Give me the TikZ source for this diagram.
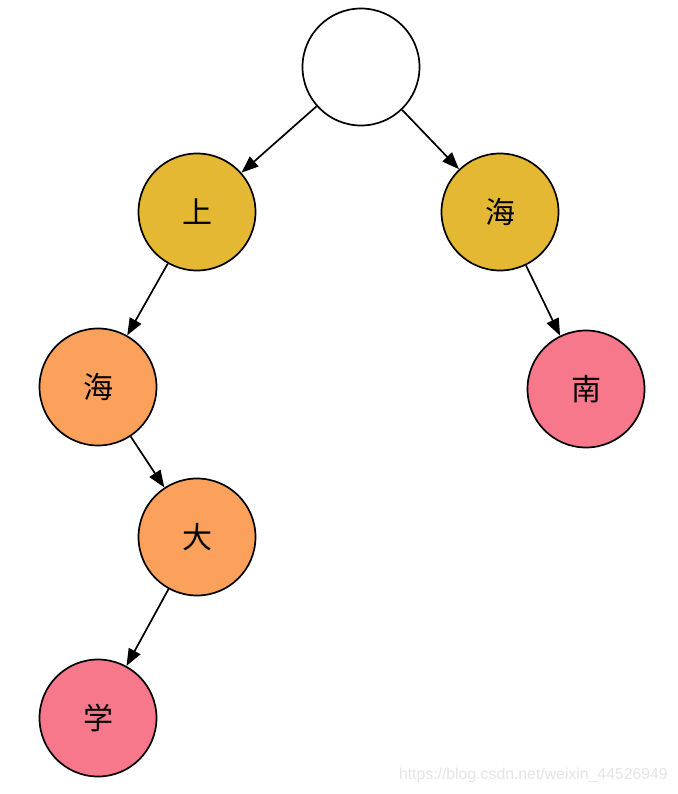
\documentclass[tikz,border=0pt]{standalone}
\usepackage{fontspec}
\setmainfont{Liberation Sans}
\newfontfamily\cjk{Noto Sans CJK SC}
\usetikzlibrary{arrows.meta}
\definecolor{gold}{HTML}{E4B833}
\definecolor{orng}{HTML}{FCA15C}
\definecolor{pnk}{HTML}{F6788A}
\definecolor{wm}{HTML}{E4E4E4}
\tikzset{
  tn/.style={circle, draw=black, line width=1.7pt, minimum size=117pt, inner sep=0pt, font=\cjk\fontsize{30}{34}\selectfont},
  edge/.style={line width=1.7pt, -{Triangle[length=17pt,width=13pt]}}
}
\begin{document}
\begin{tikzpicture}[x=1pt,y=-1pt]
\useasboundingbox (0,0) rectangle (677,794);
\node[tn, fill=white] (r) at (361,67) {};
\node[tn, fill=gold] (a) at (197,212) {上};
\node[tn, fill=gold] (b) at (500,212) {海};
\node[tn, fill=orng] (c) at (98,387) {海};
\node[tn, fill=pnk] (d) at (586,389) {南};
\node[tn, fill=orng] (e) at (197,537) {大};
\node[tn, fill=pnk] (f) at (98,718) {学};
\draw[edge] (r) -- (a);
\draw[edge] (r) -- (b);
\draw[edge] (a) -- (c);
\draw[edge] (b) -- (d);
\draw[edge] (c) -- (e);
\draw[edge] (e) -- (f);
\node[text=wm, font=\fontsize{15.8}{18}\selectfont, anchor=east, inner sep=0pt] (w) at (668,775) {https://blog.csdn.net/weixin\_44526949};
\end{tikzpicture}
\end{document}
